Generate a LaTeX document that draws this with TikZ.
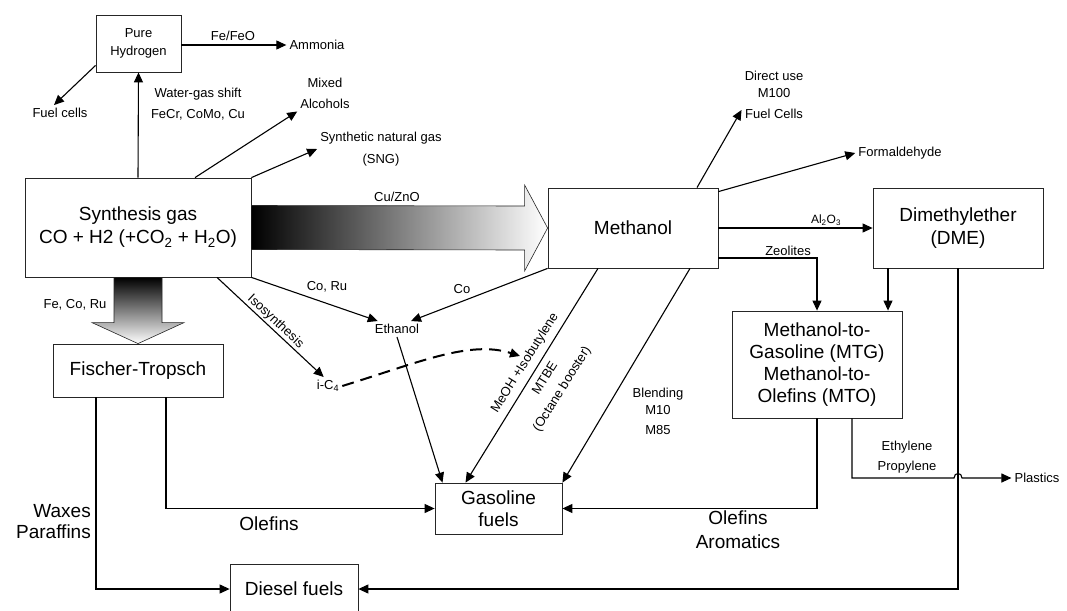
\documentclass[tikz,border=0pt]{standalone}
\usepackage{fontspec}
\setmainfont{Liberation Sans}
\usetikzlibrary{arrows.meta}

\begin{document}
\begin{tikzpicture}[x=1pt,y=-1pt,>={Triangle[length=10pt,width=9pt]},every node/.style={font=\fontsize{13}{18}\selectfont,align=center},box/.style={draw=black!85,line width=0.8pt,fill=white,font=\fontsize{19}{22}\selectfont,inner sep=2pt},lbl/.style={inner sep=3pt},biglbl/.style={font=\fontsize{19}{23}\selectfont,inner sep=3pt},arrow/.style={->,line width=1.1pt},dasharrow/.style={->,line width=2pt,dash pattern=on 12pt off 7pt},shadearrow/.style={draw=black!85,line width=0.6pt}]
\useasboundingbox (0,0) rectangle (1067,610);
\node[box,font=\fontsize{13}{18}\selectfont,minimum width=85pt,minimum height=57pt] (h2) at (138.5,43.5) {Pure\\Hydrogen}; \node[box,minimum width=226pt,minimum height=99pt] (syngas) at (138,227.5) {Synthesis gas\\[1pt]CO + H2 (+CO\textsubscript{2} + H\textsubscript{2}O)}; \node[box,minimum width=170pt,minimum height=80pt] (methanol) at (633,228) {Methanol}; \node[box,minimum width=170pt,minimum height=80pt] (dme) at (958,228) {Dimethylether\\[1pt](DME)};
\node[box,minimum width=170pt,minimum height=107pt] (mtg) at (817,364.5) {Methanol-to-\\Gasoline (MTG)\\Methanol-to-\\Olefins (MTO)}; \node[box,minimum width=170pt,minimum height=53pt] (ft) at (138,370.5) {Fischer-Tropsch}; \node[box,minimum width=127pt,minimum height=51pt] (gasoline) at (498.5,508.5) {Gasoline\\fuels}; \node[box,minimum width=128pt,minimum height=50pt] (diesel) at (294,589) {Diesel fuels};
\node[lbl] (ammonia) at (317,45) {Ammonia}; \node[lbl] (fefeo) at (233,36) {Fe/FeO}; \node[lbl] (fuelcells) at (60,113) {Fuel cells}; \node[lbl] (wgs) at (198,104) {Water-gas shift\\[3pt]FeCr, CoMo, Cu}; \node[lbl] (alcohols) at (325,93) {Mixed\\[3pt]Alcohols}; \node[lbl] (sng) at (381,149) {Synthetic natural gas\\[4pt](SNG)}; \node[lbl] (cuzno) at (397,197) {Cu/ZnO};
\node[lbl] (directuse) at (774,95) {Direct use\\[-1pt]M100\\[3pt]Fuel Cells}; \node[lbl] (formaldehyde) at (900,153) {Formaldehyde}; \node[lbl,font=\fontsize{12}{14}\selectfont] (alox) at (826,220) {Al\textsubscript{2}O\textsubscript{3}}; \node[lbl] (zeolites) at (788,251) {Zeolites};
\node[lbl] (feco) at (75,305) {Fe, Co, Ru}; \node[lbl] (coru) at (327,287) {Co, Ru}; \node[lbl] (co) at (462,289) {Co}; \node[lbl] (ethanol) at (397,329) {Ethanol}; \node[lbl] (ic4) at (328,386) {i-C\textsubscript{4}}; \coordinate (mtbetip) at (520,356);
\node[lbl,rotate=58] (meoh) at (525,363) {MeOH +Isobutylene}; \node[lbl,rotate=58] (mtbe) at (554,384) {MTBE\\[2pt](Octane booster)}; \node[lbl] (blending) at (658,411) {Blending\\[-1pt]M10\\[2pt]M85}; \node[lbl] (ethylene) at (907,457) {Ethylene\\[2pt]Propylene}; \node[lbl] (plastics) at (1037,478) {Plastics};
\node[biglbl,align=right,anchor=east] (waxes) at (94,522) {Waxes\\[-2pt]Paraffins}; \node[biglbl] (olefinsft) at (269,524) {Olefins}; \node[biglbl] (olefinsmtg) at (738,530) {Olefins\\[1pt]Aromatics};
\path[shadearrow,left color=black,right color=white] ([yshift=22pt]syngas.east) -- ([xshift=-23pt,yshift=22pt]methanol.west) -- ([xshift=-23pt,yshift=43pt]methanol.west) -- (methanol.west) -- ([xshift=-23pt,yshift=-43pt]methanol.west) -- ([xshift=-23pt,yshift=-22pt]methanol.west) -- ([yshift=-22pt]syngas.east) -- cycle;
\path[shadearrow,top color=black,bottom color=white] ([xshift=-24pt]syngas.south) -- ([xshift=24pt]syngas.south) -- ([xshift=24pt,yshift=21pt]ft.north) -- ([xshift=46pt,yshift=21pt]ft.north) -- (ft.north) -- ([xshift=-46pt,yshift=21pt]ft.north) -- ([xshift=-24pt,yshift=21pt]ft.north) -- cycle;
\draw[arrow] (h2.east |- ammonia.west) -- (ammonia.west); \draw[arrow] ([yshift=7pt]h2.south west) -- ([xshift=-6pt]fuelcells.north); \draw[arrow] (syngas.north) -- (h2.south); \draw[arrow] ([xshift=57pt]syngas.north) -- (alcohols.south west); \draw[arrow] (syngas.north east) -- (sng.west);
\draw[arrow] ([xshift=64pt]methanol.north) -- ([yshift=12pt]directuse.south west); \draw[arrow] ([yshift=-4pt]methanol.north east) -- (formaldehyde.west); \draw[arrow] (methanol.east) -- (dme.west); \draw[arrow] ([yshift=-30pt]methanol.east) -| (mtg.north); \draw[arrow] ([xshift=-70pt]dme.south) -- ([xshift=-70pt]dme.south |- mtg.north);
\draw[arrow] (syngas.south east) -- ([xshift=6pt]ethanol.north west); \draw[arrow] (methanol.south west) -- ([xshift=14pt]ethanol.north); \draw[arrow] ([xshift=79pt]syngas.south) -- node[above,sloped,inner sep=1pt] (iso) {Isosynthesis} ([xshift=10pt]ic4.north west); \draw[dasharrow] (ic4.east) .. controls (420,362) and (470,340) .. (mtbetip);
\draw[arrow] (ethanol.south) -- ([xshift=-56pt]gasoline.north); \draw[arrow] ([xshift=-35pt]methanol.south) -- ([xshift=-33pt]gasoline.north); \draw[arrow] ([xshift=57pt]methanol.south) -- (gasoline.north east);
\draw[arrow] ([xshift=-42pt]ft.south) |- (diesel.west); \draw[arrow] ([xshift=28pt]ft.south) |- (gasoline.west); \draw[arrow] (mtg.south) |- (gasoline.east); \draw[arrow] (dme.south) |- (diesel.east);
\coordinate (hop) at (dme.south |- plastics.west); \draw[arrow] ([xshift=35pt]mtg.south) |- ([xshift=-4pt]hop) .. controls +(0,-6) and +(0,-6) .. ([xshift=4pt]hop) -- (plastics.west);
\end{tikzpicture}
\end{document}
